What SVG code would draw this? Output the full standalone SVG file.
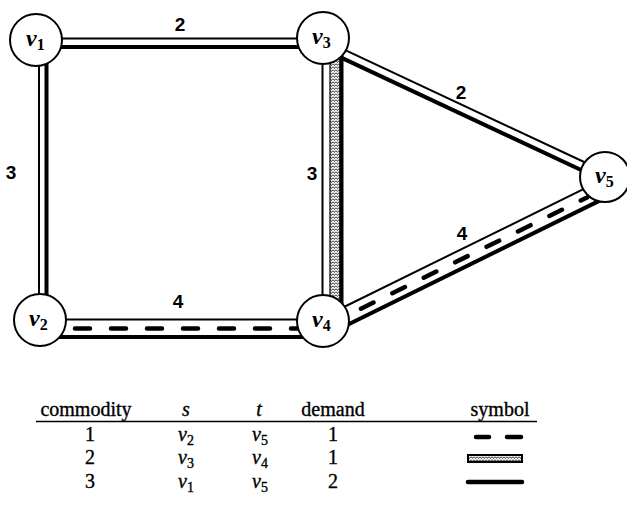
<svg xmlns="http://www.w3.org/2000/svg" width="627" height="513" viewBox="0 0 627 513">
<style>
.thin{stroke:#000;stroke-width:2;fill:none}
.thick{stroke:#000;stroke-width:4;fill:none}
.dash{stroke:#000;stroke-width:4.5;fill:none;stroke-linecap:round}
.node{fill:#fff;stroke:#000;stroke-width:2}
.nl{font-family:"Liberation Serif",serif;font-size:24px;font-style:italic;font-weight:bold}
.sub{font-size:16px;font-style:normal}
.el{font-family:"Liberation Sans",sans-serif;font-size:19px;font-weight:bold;text-anchor:middle}
.tb{font-family:"Liberation Serif",serif;font-size:20px;text-anchor:middle;stroke:#000;stroke-width:0.35}
.it{font-style:italic}
</style>
<defs>
<pattern id="stip" width="3" height="3" patternUnits="userSpaceOnUse">
<rect width="3" height="3" fill="#fff"/>
<path d="M0,0.5 L1.5,2.5 L3,0.5" stroke="#333" stroke-width="1" fill="none"/>
</pattern>
</defs>
<g id="connectors">
<g id="e13">
<line class="thin" x1="36" y1="38.5" x2="323" y2="38.5"/>
<line class="thick" x1="36" y1="47" x2="323" y2="47"/>
</g>
<g id="e12">
<line class="thin" x1="39" y1="40" x2="39" y2="321"/>
<line class="thick" x1="46.5" y1="40" x2="46.5" y2="321"/>
</g>
<g id="e24">
<line class="thin" x1="40" y1="319.5" x2="323" y2="319.5"/>
<line class="dash" x1="75" y1="328.5" x2="300" y2="328.5" stroke-dasharray="15 21"/>
<line class="thick" x1="40" y1="337" x2="323" y2="337"/>
</g>
<g id="e34">
<line class="thin" x1="322.5" y1="38" x2="322.5" y2="321"/>
<rect x="330" y="38" width="10" height="283" fill="url(#stip)" stroke="#000" stroke-width="1.2"/>
<line class="thick" x1="341.5" y1="38" x2="341.5" y2="321"/>
</g>
<g id="e35" transform="translate(345,50) rotate(25.1)">
<line class="thin" x1="-25" y1="0" x2="290" y2="0"/>
<line class="thick" x1="-25" y1="8.5" x2="290" y2="8.5"/>
</g>
<g id="e45" transform="translate(348,305) rotate(-26.2)">
<line class="thin" x1="-30" y1="0" x2="290" y2="0"/>
<line class="dash" x1="10" y1="9" x2="262" y2="9" stroke-dasharray="14 21"/>
<line class="thick" x1="-30" y1="17.5" x2="290" y2="17.5"/>
</g>
</g>
<g id="edge-labels">
<text class="el" x="180" y="31">2</text>
<text class="el" x="11" y="179">3</text>
<text class="el" x="312" y="180">3</text>
<text class="el" x="461" y="99">2</text>
<text class="el" x="178" y="308">4</text>
<text class="el" x="462" y="240">4</text>
</g>
<g id="v1"><circle class="node" cx="36" cy="40" r="26"/><text class="nl" x="26" y="46">v<tspan class="sub" dy="4">1</tspan></text></g>
<g id="v3"><circle class="node" cx="323" cy="38" r="26"/><text class="nl" x="312" y="44">v<tspan class="sub" dy="4">3</tspan></text></g>
<g id="v2"><circle class="node" cx="40" cy="320" r="26"/><text class="nl" x="29" y="326">v<tspan class="sub" dy="4">2</tspan></text></g>
<g id="v4"><circle class="node" cx="323" cy="321" r="26"/><text class="nl" x="312" y="327">v<tspan class="sub" dy="4">4</tspan></text></g>
<g id="v5"><circle class="node" cx="605" cy="177" r="25"/><text class="nl" x="595" y="183">v<tspan class="sub" dy="4">5</tspan></text></g>
<g id="table">
<text class="tb" x="86" y="416">commodity</text>
<text class="tb it" x="186" y="416">s</text>
<text class="tb it" x="259" y="416">t</text>
<text class="tb" x="333" y="416">demand</text>
<text class="tb" x="500" y="416">symbol</text>
<line x1="36" y1="421.5" x2="537" y2="421.5" stroke="#000" stroke-width="1.5"/>
<text class="tb" x="90" y="441">1</text>
<text class="tb" x="186" y="441"><tspan class="it">v</tspan><tspan font-size="14" dy="4">2</tspan></text>
<text class="tb" x="260" y="441"><tspan class="it">v</tspan><tspan font-size="14" dy="4">5</tspan></text>
<text class="tb" x="333" y="441">1</text>
<line class="dash" x1="476" y1="437" x2="489" y2="437"/>
<line class="dash" x1="507" y1="437" x2="521" y2="437"/>
<text class="tb" x="90" y="464">2</text>
<text class="tb" x="186" y="464"><tspan class="it">v</tspan><tspan font-size="14" dy="4">3</tspan></text>
<text class="tb" x="260" y="464"><tspan class="it">v</tspan><tspan font-size="14" dy="4">4</tspan></text>
<text class="tb" x="333" y="464">1</text>
<rect x="468" y="455" width="54" height="7" fill="url(#stip)" stroke="#000" stroke-width="2"/>
<text class="tb" x="90" y="488">3</text>
<text class="tb" x="186" y="488"><tspan class="it">v</tspan><tspan font-size="14" dy="4">1</tspan></text>
<text class="tb" x="260" y="488"><tspan class="it">v</tspan><tspan font-size="14" dy="4">5</tspan></text>
<text class="tb" x="333" y="488">2</text>
<line x1="468" y1="482" x2="522" y2="482" stroke="#000" stroke-width="4.5" stroke-linecap="round"/>
</g>
</svg>
